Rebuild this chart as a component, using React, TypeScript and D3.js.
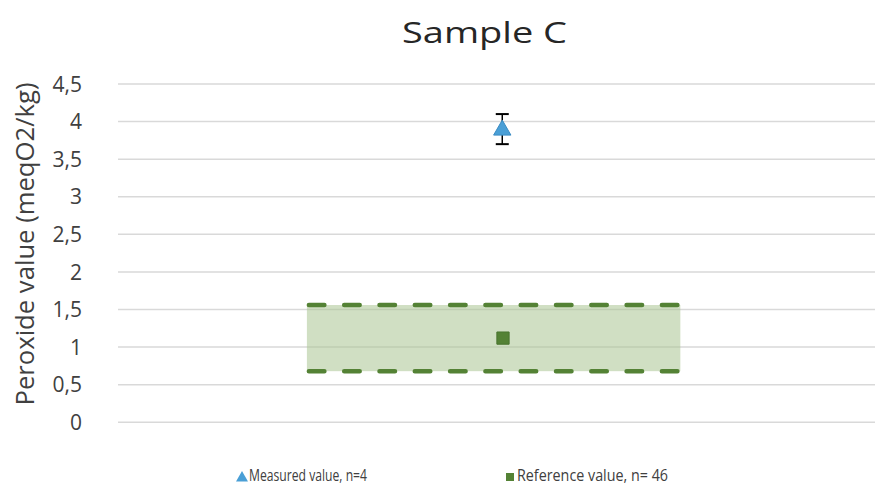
import React from "react";
import * as d3 from "d3";

// Peroxide value, sample C
const title = "Sample C";
const yTicks = [0, 0.5, 1, 1.5, 2, 2.5, 3, 3.5, 4, 4.5];
const yTickLabels = ["0", "0,5", "1", "1,5", "2", "2,5", "3", "3,5", "4", "4,5"];
const yLabel = "Peroxide value (meqO2/kg)";

// Measured value (mean ± sd), n=4
const measuredX = [5.33];
const measuredY = [3.9];
const measuredErr = [0.2];

// Reference value with its acceptance range, n=46
const referenceX = [5.34];
const referenceY = [1.12];
const referenceLow = [0.68];
const referenceHigh = [1.56];
const rangeX = [2.62, 7.8];

const legendLabels = ["Measured value, n=4", "Reference value, n= 46"];

const W = 875;
const H = 485;
const FONT = "'Open Sans', 'Noto Sans', sans-serif";
const GREEN = "#548235";
const BLUE = "#4a9fd6";

export default function App() {
  const x = d3.scaleLinear().domain([0, 10.5]).range([118, 875]);
  const y = d3.scaleLinear().domain([0, 4.5]).range([422.3, 84]);

  const tri = d3.symbol().type(d3.symbolTriangle).size(130)();
  const sq = d3.symbol().type(d3.symbolSquare).size(150)();
  const triSmall = d3.symbol().type(d3.symbolTriangle).size(62)();
  const sqSmall = d3.symbol().type(d3.symbolSquare).size(64)();

  const cap = 6.5;

  return (
    <svg
      width={W}
      height={H}
      style={{ position: "absolute", left: 0, top: 0, background: "#fff" }}
      fontFamily={FONT}
    >
      <text
        x={402}
        y={43}
        fontSize={30}
        fill="#262626"
        textLength={165}
        lengthAdjust="spacingAndGlyphs"
      >
        {title}
      </text>

      {yTicks.map((t, i) => (
        <g key={t}>
          <line
            x1={x(0)}
            x2={W}
            y1={y(t)}
            y2={y(t)}
            stroke="#d9d9d9"
            strokeWidth={1.5}
          />
          <text
            x={82}
            y={y(t)}
            dy="0.36em"
            textAnchor="end"
            fontSize={21}
            fill="#404040"
          >
            {yTickLabels[i]}
          </text>
        </g>
      ))}

      <text
        transform={`translate(34,244) rotate(-90)`}
        textAnchor="middle"
        fontSize={26}
        fill="#404040"
        textLength={323}
        lengthAdjust="spacingAndGlyphs"
      >
        {yLabel}
      </text>

      {/* reference range */}
      <rect
        x={x(rangeX[0])}
        width={x(rangeX[1]) - x(rangeX[0])}
        y={y(referenceHigh[0])}
        height={y(referenceLow[0]) - y(referenceHigh[0])}
        fill="#a9c592"
        fillOpacity={0.55}
      />
      {[referenceHigh[0], referenceLow[0]].map((v, i) => (
        <line
          key={i}
          x1={x(rangeX[0]) + 2}
          x2={x(rangeX[1])}
          y1={y(v)}
          y2={y(v)}
          stroke={GREEN}
          strokeWidth={4.5}
          strokeLinecap="round"
          strokeDasharray="15.5 19.8"
        />
      ))}

      {referenceX.map((v, i) => (
        <path
          key={i}
          d={sq!}
          transform={`translate(${x(v)},${y(referenceY[i])})`}
          fill={GREEN}
          stroke="#4a7530"
          strokeWidth={1}
        />
      ))}

      {/* measured value with error bar */}
      {measuredX.map((v, i) => {
        const cx = x(v);
        const top = y(measuredY[i] + measuredErr[i]);
        const bot = y(measuredY[i] - measuredErr[i]);
        return (
          <g key={i}>
            <line x1={cx} x2={cx} y1={top} y2={bot} stroke="#000" strokeWidth={1.5} />
            <line x1={cx - cap} x2={cx + cap} y1={top} y2={top} stroke="#000" strokeWidth={2} />
            <line x1={cx - cap} x2={cx + cap} y1={bot} y2={bot} stroke="#000" strokeWidth={2} />
            <path
              d={tri!}
              transform={`translate(${cx},${y(measuredY[i]) + 1})`}
              fill={BLUE}
              stroke="#3a8cc4"
              strokeWidth={1}
            />
          </g>
        );
      })}

      {/* legend */}
      <g fontSize={16} fill="#404040">
        <path d={triSmall!} transform="translate(242,478)" fill={BLUE} />
        <text x={249} y={481} textLength={118} lengthAdjust="spacingAndGlyphs">
          {legendLabels[0]}
        </text>
        <path d={sqSmall!} transform="translate(510,477)" fill={GREEN} />
        <text x={517} y={481} textLength={151} lengthAdjust="spacingAndGlyphs">
          {legendLabels[1]}
        </text>
      </g>
    </svg>
  );
}
